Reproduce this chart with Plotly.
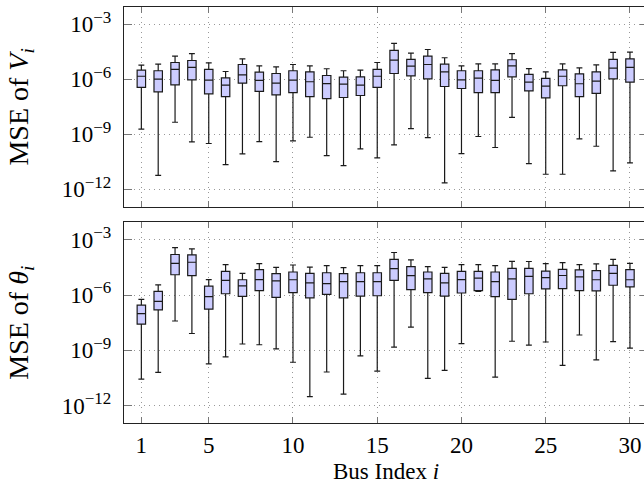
import plotly.graph_objects as go

bus = list(range(1, 31))
tick_x = [1, 5, 10, 15, 20, 25, 30]
tick_y_exp = [-12, -9, -6, -3]

# log10 of MSE of V_i (upper whisker, q3, median, q1, lower whisker)
v_hi = [-5.22, -5.17, -4.73, -4.59, -5.10, -5.57, -4.88, -5.26, -5.32, -5.19,
        -5.26, -5.42, -5.53, -5.50, -5.08, -4.04, -4.57, -4.37, -4.82, -5.26,
        -5.15, -5.15, -4.60, -5.41, -5.59, -5.15, -5.37, -5.21, -4.53, -4.51]
v_q3 = [-5.50, -5.53, -5.08, -4.97, -5.46, -5.92, -5.19, -5.61, -5.68, -5.53,
        -5.59, -5.79, -5.88, -5.86, -5.46, -4.42, -4.91, -4.73, -5.17, -5.53,
        -5.53, -5.48, -4.93, -5.73, -5.95, -5.48, -5.70, -5.59, -4.91, -4.88]
v_med = [-5.83, -5.99, -5.46, -5.35, -6.04, -6.32, -5.75, -6.06, -6.21, -6.04,
         -6.13, -6.23, -6.26, -6.32, -5.83, -4.95, -5.28, -5.19, -5.59, -6.03,
         -5.93, -6.06, -5.26, -6.15, -6.37, -5.83, -6.24, -6.10, -5.39, -5.35]
v_q1 = [-6.44, -6.68, -6.30, -6.03, -6.79, -6.94, -6.21, -6.66, -6.85, -6.72,
        -6.94, -7.05, -6.99, -6.88, -6.44, -5.68, -5.81, -5.97, -6.39, -6.50,
        -6.72, -6.72, -5.86, -6.63, -7.01, -6.35, -6.94, -6.77, -5.97, -6.15]
v_lo = [-8.72, -11.24, -8.34, -9.41, -9.50, -10.65, -10.07, -9.40, -10.49, -9.36,
        -9.16, -10.16, -10.71, -9.80, -10.29, -9.58, -8.69, -9.18, -11.65, -10.05,
        -9.12, -9.72, -8.08, -10.60, -11.18, -11.18, -9.25, -9.65, -11.00, -10.56]

# log10 of MSE of theta_i
t_hi = [-6.24, -5.45, -3.43, -3.49, -5.16, -4.35, -4.83, -4.29, -4.50, -4.37,
        -4.48, -4.40, -4.51, -4.40, -4.40, -3.69, -4.09, -4.46, -4.50, -4.35,
        -4.35, -4.40, -4.17, -4.18, -4.29, -4.24, -4.35, -4.31, -4.06, -4.28]
t_q3 = [-6.55, -5.80, -3.80, -3.82, -5.52, -4.72, -5.17, -4.62, -4.84, -4.75,
        -4.83, -4.79, -4.84, -4.79, -4.79, -4.06, -4.46, -4.75, -4.83, -4.72,
        -4.72, -4.75, -4.55, -4.55, -4.70, -4.61, -4.64, -4.68, -4.39, -4.62]
t_med = [-7.01, -6.35, -4.28, -4.22, -6.09, -5.21, -5.50, -5.16, -5.23, -5.17,
         -5.34, -5.38, -5.27, -5.27, -5.27, -4.57, -4.95, -5.12, -5.34, -5.16,
         -5.08, -5.27, -5.12, -4.99, -5.06, -4.94, -5.01, -5.17, -4.83, -5.17]
t_q1 = [-7.58, -6.81, -4.90, -4.95, -6.77, -5.93, -6.07, -5.76, -6.13, -5.87,
        -6.15, -5.96, -6.15, -6.06, -6.04, -5.21, -5.71, -5.87, -6.06, -5.89,
        -5.76, -6.09, -6.24, -5.93, -5.67, -5.65, -5.76, -5.78, -5.47, -5.56]
t_lo = [-10.57, -10.20, -7.41, -8.09, -9.74, -9.36, -8.66, -8.70, -8.92, -9.65,
        -11.52, -10.18, -11.38, -9.30, -10.13, -8.83, -7.74, -10.53, -10.09, -8.64,
        -5.80, -10.46, -8.51, -8.72, -8.55, -9.82, -8.17, -9.52, -8.53, -8.88]


def pw(a):
    return [10.0 ** e for e in a]


box_style = dict(
    fillcolor="#ccccff",
    line=dict(color="#1a1a1a", width=1.2),
    width=0.5,
    whiskerwidth=0.7,
    boxpoints=False,
    showlegend=False,
    hoverinfo="skip",
)

fig = go.Figure()
fig.add_trace(go.Box(x=bus, q1=pw(v_q1), median=pw(v_med), q3=pw(v_q3),
                     lowerfence=pw(v_lo), upperfence=pw(v_hi),
                     xaxis="x", yaxis="y", **box_style))
fig.add_trace(go.Box(x=bus, q1=pw(t_q1), median=pw(t_med), q3=pw(t_q3),
                     lowerfence=pw(t_lo), upperfence=pw(t_hi),
                     xaxis="x2", yaxis="y2", **box_style))

font_family = "Liberation Serif"
ytickvals = [10.0 ** e for e in tick_y_exp]
yticktext = ["10<sup><span style='font-size:17px'>\u2212%d</span></sup>" % (-e)
             for e in tick_y_exp]

common_x = dict(
    range=[-0.03, 31.07], tickvals=tick_x, ticktext=[str(t) for t in tick_x],
    ticks="inside", ticklen=6, tickcolor="#777", tickwidth=1,
    showline=True, linecolor="#222", linewidth=1.2, mirror="ticks",
    showgrid=True, gridcolor="#999999", griddash="1px,4px", gridwidth=1,
    zeroline=False, automargin=False,
)
common_y = dict(
    type="log", range=[-12.95, -2.05], tickvals=ytickvals, ticktext=yticktext,
    ticks="inside", ticklen=8, tickcolor="#777", tickwidth=1,
    showline=True, linecolor="#222", linewidth=1.2, mirror="ticks",
    showgrid=True, gridcolor="#999999", griddash="1px,4px", gridwidth=1,
    zeroline=False, ticklabelstandoff=7, automargin=False,
)

fig.update_layout(
    width=648, height=485,
    margin=dict(l=124, r=0, t=7, b=62),
    paper_bgcolor="white", plot_bgcolor="white",
    font=dict(family=font_family, size=23, color="black"),
    xaxis=dict(domain=[0, 1], anchor="y", showticklabels=False, **common_x),
    yaxis=dict(domain=[0.520, 1.0], anchor="x",
               title=dict(text="MSE of <i>V<sub>i</sub></i>", standoff=24),
               **common_y),
    xaxis2=dict(domain=[0, 1], anchor="y2", showticklabels=True,
                ticklabelstandoff=1, **common_x),
    yaxis2=dict(domain=[0.0, 0.4825], anchor="x2",
                title=dict(text="MSE of <i>\u03b8<sub>i</sub></i>", standoff=24),
                **common_y),
    annotations=[dict(text="Bus Index <i>i</i>", xref="paper", yref="paper",
                      x=0.5, y=-0.117, xanchor="center", yanchor="middle",
                      showarrow=False,
                      font=dict(family=font_family, size=23, color="black"))],
)

fig.write_html("out.html",
               config={"displayModeBar": False},
               post_script="document.body.style.margin='0px';"
                           "document.body.style.overflow='hidden';")
